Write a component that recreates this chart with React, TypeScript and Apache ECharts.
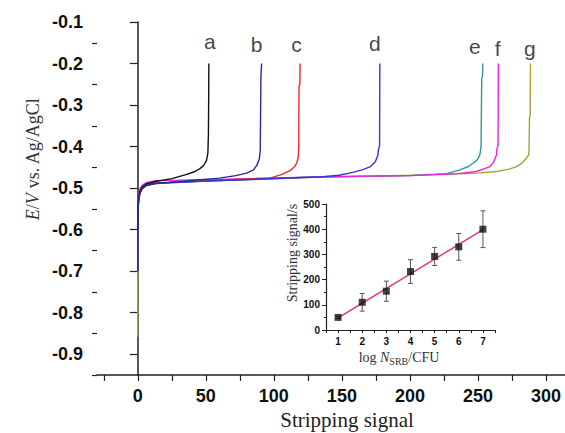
import React, { useEffect, useRef } from "react";
import * as echarts from "echarts";

// Main chart curves: [stripping signal, E/V]
const curveA: [number, number][] = [
  [0, -0.6], [0, -0.55], [0.6, -0.525], [1.5, -0.508], [3, -0.498], [6, -0.49], [13, -0.484],
  [25, -0.477], [36, -0.467], [42, -0.46], [45.7, -0.453], [48.5, -0.445], [50.5, -0.433],
  [51.5, -0.415], [51.9, -0.37], [52.1, -0.28], [52.2, -0.2],
];
const curveB: [number, number][] = [
  [0, -0.7], [0, -0.56], [0.6, -0.53], [1.5, -0.513], [3, -0.502], [6, -0.494], [13, -0.489],
  [30, -0.484], [60, -0.476], [72, -0.47], [80, -0.464], [85, -0.456], [87.5, -0.445],
  [89.3, -0.43], [90, -0.41], [90.3, -0.3], [90.5, -0.23], [91, -0.2],
];
const curveC: [number, number][] = [
  [0, -0.6], [0, -0.56], [0.6, -0.528], [1.5, -0.511], [3, -0.5], [6, -0.493], [13, -0.488],
  [50, -0.482], [97, -0.476], [106, -0.467], [111.8, -0.458], [115, -0.449], [116.8, -0.44],
  [117.9, -0.425], [118.3, -0.4], [118.4, -0.3], [118.5, -0.255], [119.1, -0.25], [119.3, -0.2],
];
const curveD: [number, number][] = [
  [0, -0.7], [0, -0.56], [0.6, -0.53], [1.5, -0.513], [3, -0.502], [6, -0.494], [13, -0.489],
  [50, -0.483], [100, -0.477], [136, -0.4725], [148, -0.469], [158, -0.462], [166, -0.455],
  [171, -0.448], [174.5, -0.437], [176.5, -0.42], [177, -0.405], [177.7, -0.399],
  [177.8, -0.3], [177.9, -0.2],
];
const curveE: [number, number][] = [
  [0, -0.62], [0, -0.56], [0.6, -0.528], [1.5, -0.511], [3, -0.5], [6, -0.493], [13, -0.488],
  [60, -0.482], [135, -0.4725], [200, -0.47], [227, -0.465], [236.7, -0.456], [243, -0.448],
  [246.4, -0.44], [249.5, -0.432], [251.4, -0.42], [252.3, -0.4], [252.6, -0.3],
  [252.8, -0.235], [253.4, -0.23], [253.6, -0.2],
];
const curveF: [number, number][] = [
  [0, -0.6], [0, -0.55], [0.5, -0.52], [1.5, -0.503], [3, -0.494], [6, -0.487], [13, -0.482],
  [60, -0.479], [135, -0.473], [200, -0.47], [235, -0.465], [248.8, -0.46], [255, -0.453],
  [258.7, -0.448], [261.5, -0.438], [263.6, -0.42], [264, -0.405], [264.8, -0.398],
  [264.9, -0.3], [265, -0.2],
];
const curveG: [number, number][] = [
  [0, -0.858], [0, -0.56], [0.6, -0.529], [1.5, -0.512], [3, -0.501], [6, -0.493], [13, -0.488],
  [60, -0.482], [135, -0.4735], [180, -0.471], [227, -0.467], [250, -0.464], [263.7, -0.46],
  [272, -0.455], [278, -0.449], [280.6, -0.444], [283.5, -0.436], [285.5, -0.428],
  [287.4, -0.42], [287.7, -0.38], [287.9, -0.33], [288.4, -0.325], [288.6, -0.2],
];

const curveNames = ["g", "e", "f", "c", "d", "a", "b"];
const curveColors = ["#a3a33a", "#2c9a94", "#ec22e0", "#ee2a2a", "#3535dc", "#111111", "#2a2a96"];
const curveData = [curveG, curveE, curveF, curveC, curveD, curveA, curveB];

const labelTexts = ["a", "b", "c", "d", "e", "f", "g"];
const labelX = [53.0, 87.3, 116.7, 174.2, 247.7, 264.6, 288.1];
const labelY = [-0.147, -0.155, -0.155, -0.151, -0.159, -0.163, -0.163];

const mainXLabels = [0, 50, 100, 150, 200, 250, 300];
const mainXTicks = [-25, 0, 25, 50, 75, 100, 125, 150, 175, 200, 225, 250, 275, 300];
const mainYLabels = [-0.9, -0.8, -0.7, -0.6, -0.5, -0.4, -0.3, -0.2, -0.1];
const mainYMinor = [-0.95, -0.85, -0.75, -0.65, -0.55, -0.45, -0.35, -0.25, -0.15];

// Inset: log N_SRB vs stripping signal
const insetX = [1, 2, 3, 4, 5, 6, 7];
const insetY = [50, 110, 154, 232, 292, 330, 400];
const insetErr = [4, 35, 40, 47, 36, 53, 73];
const fitX = [1, 7];
const fitY = [48, 398];
const insetXTicks = [0.5, 1, 1.5, 2, 2.5, 3, 3.5, 4, 4.5, 5, 5.5, 6, 6.5, 7, 7.5];
const insetXLabels = [1, 2, 3, 4, 5, 6, 7];

const SANS = "Liberation Sans, Arial, sans-serif";
const SERIF = "Liberation Serif, Times New Roman, serif";

export default function App() {
  const ref = useRef<HTMLDivElement>(null);
  useEffect(() => {
    if (!ref.current) return;
    const chart = echarts.init(ref.current, null, { renderer: "svg" });

    const lineSeries = curveData.map((d, i) => ({
      type: "line",
      name: curveNames[i],
      xAxisIndex: 0,
      yAxisIndex: 0,
      data: d,
      showSymbol: false,
      symbol: "none",
      lineStyle: { color: curveColors[i], width: 1.4 },
      z: 2 + i,
    }));

    const option: any = {
      animation: false,
      backgroundColor: "#ffffff",
      grid: [
        { left: 97, top: 22, right: 0, bottom: 58 },
        { left: 326, top: 204, width: 169, height: 126, z: 10 },
      ],
      xAxis: [
        {
          type: "value",
          gridIndex: 0,
          min: -30,
          max: 314,
          splitLine: { show: false },
          axisLine: { lineStyle: { color: "#222", width: 1.5 } },
          axisTick: { customValues: mainXTicks, length: 6, lineStyle: { color: "#222", width: 1.2 } },
          axisLabel: {
            customValues: mainXLabels,
            margin: 12,
            fontFamily: SANS,
            fontWeight: "bold",
            fontSize: 18,
            color: "#111",
          },
        },
        {
          type: "value",
          gridIndex: 1,
          min: 0.5,
          max: 7.5,
          splitLine: { show: false },
          axisLine: { lineStyle: { color: "#222", width: 1.2 } },
          axisTick: { customValues: insetXTicks, length: 3, lineStyle: { color: "#222", width: 1 } },
          axisLabel: {
            customValues: insetXLabels,
            margin: 6,
            fontFamily: SANS,
            fontWeight: "bold",
            fontSize: 10,
            color: "#111",
          },
        },
      ],
      yAxis: [
        {
          type: "value",
          gridIndex: 0,
          min: -0.95,
          max: -0.1,
          splitLine: { show: false },
          axisLine: { show: true, lineStyle: { color: "#222", width: 1.5 } },
          axisTick: { show: true, customValues: mainYLabels, length: 8, lineStyle: { color: "#222", width: 1.2 } },
          axisLabel: {
            customValues: mainYLabels,
            margin: 14,
            fontFamily: SANS,
            fontWeight: "bold",
            fontSize: 18,
            color: "#111",
            formatter: (v: number) => v.toFixed(1),
          },
        },
        {
          type: "value",
          gridIndex: 0,
          min: -0.95,
          max: -0.1,
          position: "left",
          splitLine: { show: false },
          axisLine: { show: false },
          axisTick: { show: true, customValues: mainYMinor, length: 5, lineStyle: { color: "#222", width: 1.2 } },
          axisLabel: { show: false },
        },
        {
          type: "value",
          gridIndex: 1,
          min: 0,
          max: 500,
          interval: 100,
          splitLine: { show: false },
          axisLine: { show: true, lineStyle: { color: "#222", width: 1.2 } },
          axisTick: { show: true, length: 4, lineStyle: { color: "#222", width: 1 } },
          minorTick: { show: true, splitNumber: 2, length: 2, lineStyle: { color: "#222", width: 1 } },
          axisLabel: {
            margin: 6,
            fontFamily: SANS,
            fontWeight: "bold",
            fontSize: 10,
            color: "#111",
          },
        },
      ],
      series: [
        ...lineSeries,
        {
          type: "scatter",
          xAxisIndex: 0,
          yAxisIndex: 0,
          symbolSize: 1,
          itemStyle: { color: "transparent" },
          data: labelTexts.map((t, i) => ({ name: t, value: [labelX[i], labelY[i]] })),
          label: {
            show: true,
            position: "inside",
            formatter: (p: any) => p.name,
            fontFamily: SANS,
            fontSize: 21,
            color: "#111",
          },
          z: 20,
        },
        {
          type: "line",
          xAxisIndex: 1,
          yAxisIndex: 2,
          data: fitX.map((x, i) => [x, fitY[i]]),
          showSymbol: false,
          symbol: "none",
          lineStyle: { color: "#e8325a", width: 1.4 },
          z: 11,
        },
        {
          type: "custom",
          xAxisIndex: 1,
          yAxisIndex: 2,
          data: insetX.map((x, i) => [x, insetY[i], insetErr[i]]),
          renderItem: (params: any, api: any) => {
            const x = api.value(0);
            const y = api.value(1);
            const e = api.value(2);
            const top = api.coord([x, y + e]);
            const bot = api.coord([x, y - e]);
            const w = 2.5;
            const st = { stroke: "#555", lineWidth: 1 };
            return {
              type: "group",
              children: [
                { type: "line", shape: { x1: top[0], y1: top[1], x2: bot[0], y2: bot[1] }, style: st },
                { type: "line", shape: { x1: top[0] - w, y1: top[1], x2: top[0] + w, y2: top[1] }, style: st },
                { type: "line", shape: { x1: bot[0] - w, y1: bot[1], x2: bot[0] + w, y2: bot[1] }, style: st },
              ],
            };
          },
          z: 12,
        },
        {
          type: "scatter",
          xAxisIndex: 1,
          yAxisIndex: 2,
          symbol: "rect",
          symbolSize: 7,
          itemStyle: { color: "#111" },
          data: insetX.map((x, i) => [x, insetY[i]]),
          z: 13,
        },
      ],
      graphic: [
        {
          type: "text",
          x: 33,
          y: 159,
          rotation: Math.PI / 2,
          style: {
            text: "{i|E}/{i|V} vs. Ag/AgCl",
            rich: { i: { fontStyle: "italic", fontFamily: SERIF, fontSize: 18, fill: "#333" } },
            fontFamily: SERIF,
            fontSize: 18,
            fill: "#333",
            align: "center",
            verticalAlign: "middle",
          },
        },
        {
          type: "text",
          x: 347,
          y: 420,
          style: {
            text: "Stripping signal",
            fontFamily: SERIF,
            fontSize: 21,
            fill: "#222",
            align: "center",
            verticalAlign: "middle",
          },
        },
        {
          type: "text",
          x: 292,
          y: 253,
          rotation: Math.PI / 2,
          style: {
            text: "Stripping signal/s",
            fontFamily: SERIF,
            fontSize: 14,
            fill: "#333",
            align: "center",
            verticalAlign: "middle",
          },
        },
        {
          type: "text",
          x: 399,
          y: 357,
          style: {
            text: "log {i|N}{s|SRB}/CFU",
            rich: {
              i: { fontStyle: "italic", fontFamily: SERIF, fontSize: 14, fill: "#333" },
              s: { fontFamily: SERIF, fontSize: 10, fill: "#333", padding: [9, 0, 0, 0] },
            },
            fontFamily: SERIF,
            fontSize: 14,
            fill: "#333",
            align: "center",
            verticalAlign: "middle",
          },
        },
      ],
    };

    chart.setOption(option);
    return () => chart.dispose();
  }, []);

  return (
    <div
      ref={ref}
      style={{ position: "fixed", left: 0, top: 0, width: 565, height: 433 }}
    />
  );
}
